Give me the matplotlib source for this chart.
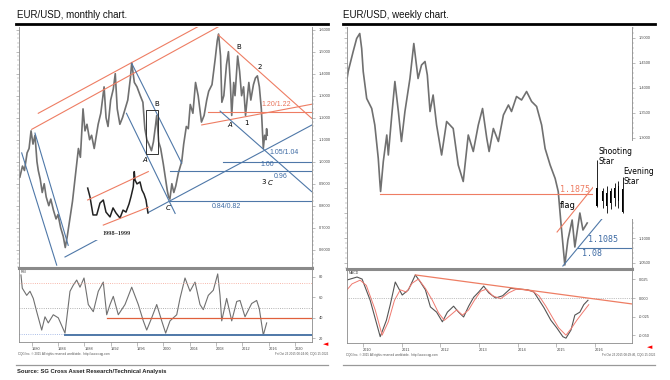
import numpy as np
import matplotlib.pyplot as plt
from matplotlib.lines import Line2D
from matplotlib.patches import Rectangle
from matplotlib.ticker import MultipleLocator

# ---- monthly chart data (decimal year, price) ----
m_year = [1978.2, 1978.6, 1978.9, 1979.3, 1979.6, 1979.9, 1980.2, 1980.5, 1980.8, 1981.0,
          1981.3, 1981.6, 1981.9, 1982.2, 1982.6, 1982.9, 1983.3, 1983.7, 1984.0, 1984.4,
          1984.8, 1985.1, 1985.4, 1985.8, 1986.2, 1986.5, 1986.8, 1987.1, 1987.4, 1987.8,
          1988.1, 1988.4, 1988.8, 1989.1, 1989.5, 1990.1, 1990.5, 1991.0, 1991.3, 1991.6,
          1992.0, 1992.4, 1992.7, 1993.0, 1993.4, 1993.8, 1994.2, 1994.6, 1995.0, 1995.2,
          1995.6, 1996.0, 1996.5, 1996.9, 1997.2, 1997.5, 1997.8, 1998.2, 1998.5, 1998.8,
          1999.0, 1999.3, 1999.6, 2000.0, 2000.3, 2000.6, 2000.8, 2001.0, 2001.3, 2001.6,
          2001.9, 2002.3, 2002.8, 2003.1, 2003.5, 2003.8, 2004.1, 2004.5, 2004.9, 2005.3,
          2005.8, 2006.2, 2006.6, 2006.9, 2007.4, 2007.9, 2008.2, 2008.4, 2008.7, 2008.9,
          2009.2, 2009.6, 2009.9, 2010.2, 2010.4, 2010.7, 2010.9, 2011.3, 2011.6, 2011.9,
          2012.2, 2012.5, 2012.8, 2013.0, 2013.3, 2013.7, 2014.0, 2014.3, 2014.6, 2014.9,
          2015.2, 2015.4, 2015.6, 2015.7, 2015.8]
m_price = [0.93, 0.98, 0.96, 1.04, 1.06, 1.14, 1.08, 1.12, 1.00, 0.96,
           0.92, 0.86, 0.90, 0.84, 0.80, 0.83, 0.78, 0.74, 0.76, 0.70,
           0.66, 0.61, 0.66, 0.74, 0.82, 0.90, 0.98, 1.06, 1.02, 1.24,
           1.14, 1.17, 1.10, 1.12, 1.06, 1.17, 1.22, 1.34, 1.20, 1.16,
           1.28, 1.33, 1.40, 1.24, 1.17, 1.20, 1.24, 1.28, 1.38, 1.45,
           1.36, 1.34, 1.30, 1.27, 1.15, 1.10, 1.08, 1.05, 1.09, 1.16,
           1.21, 1.09, 1.06, 0.99, 0.93, 0.87, 0.84, 0.83, 0.90, 0.86,
           0.89, 0.95, 1.00, 1.08, 1.16, 1.15, 1.26, 1.22, 1.36, 1.30,
           1.18, 1.21, 1.28, 1.32, 1.35, 1.47, 1.55, 1.58, 1.48, 1.27,
           1.30, 1.44, 1.50, 1.35, 1.21, 1.36, 1.30, 1.48, 1.41, 1.30,
           1.34, 1.21, 1.30, 1.36, 1.28, 1.35, 1.38, 1.39, 1.34, 1.24,
           1.06, 1.12, 1.10, 1.15, 1.12]

rsi_year = [1978.37, 1978.57, 1979.24, 1979.74, 1980.24, 1980.76, 1981.52, 1982.02, 1982.52, 1983.28,
            1984.04, 1985.06, 1985.82, 1986.32, 1986.84, 1987.34, 1987.95, 1988.6, 1989.36, 1990.12,
            1990.88, 1991.4, 1991.9, 1992.4, 1993.16, 1994.18, 1995.2, 1996.2, 1996.96, 1997.48,
            1998.24, 1999.0, 1999.76, 2000.36, 2001.02, 2002.04, 2002.54, 2003.3, 2004.06, 2004.82,
            2005.58, 2006.08, 2006.84, 2007.6, 2008.27, 2008.62, 2008.88, 2009.63, 2010.4, 2011.16,
            2011.66, 2012.42, 2013.43, 2014.19, 2014.59, 2015.2, 2015.71]
rsi_val = [82, 69, 62, 66, 59, 46, 28, 41, 35, 43,
           40, 25, 66, 72, 77, 70, 79, 53, 46, 66,
           75, 43, 53, 61, 43, 53, 70, 53, 37, 28,
           40, 53, 37, 25, 37, 43, 59, 79, 66, 75,
           53, 48, 62, 67, 83, 62, 37, 59, 37, 56,
           57, 41, 54, 57, 49, 23, 35]

# 1998-1999 inset (drawn in the same scale as the picture shows it)
inset_year = [1988.51, 1988.86, 1989.32, 1989.88, 1990.38, 1990.88, 1991.29, 1991.9, 1992.36, 1992.81,
              1993.42, 1993.88, 1994.33, 1994.79, 1995.09, 1995.44, 1995.59, 1995.7, 1996.0, 1996.46,
              1996.76, 1997.07, 1997.37, 1997.67]
inset_price = [0.880, 0.840, 0.758, 0.758, 0.812, 0.826, 0.771, 0.749, 0.790, 0.767,
               0.744, 0.780, 0.771, 0.808, 0.841, 0.886, 0.955, 0.917, 0.899, 0.908,
               0.871, 0.853, 0.826, 0.767]

# trend lines on the monthly chart: (years, prices)
red_lines_m = [([1981.0, 2005.47], [1.220, 1.617]),
               ([1980.0, 2008.6], [1.147, 1.617]),
               ([2008.36, 2022.55], [1.576, 1.197]),
               ([2005.84, 2022.55], [1.167, 1.261]),
               ([2006.84, 2022.6], [1.2245, 1.2245]),
               ([1988.51, 1997.72], [0.826, 0.955]),
               ([1990.88, 1997.72], [0.712, 0.793])]
blue_lines_m = [([1980.5, 1985.55], [1.13, 0.62]),
                ([1978.48, 1983.8], [1.04, 0.53]),
                ([1995.2, 2002.8], [1.447, 0.993]),
                ([1994.4, 2001.8], [1.22, 0.765]),
                ([2008.63, 2022.55], [1.23, 0.864]),
                ([2009.12, 2022.6], [1.00, 1.00]),
                ([2001.0, 2022.6], [0.959, 0.959]),
                ([2001.0, 2022.6], [0.821, 0.821])]
blue_rise_85 = ([1985.06, 2022.6], [0.567, 1.167])

m_labels = [(1999.07, 1.262, 'B', 'black', 'normal'), (1997.22, 1.008, 'A', 'black', 'italic'),
            (2011.5, 1.523, 'B', 'black', 'normal'), (2014.6, 1.432, '2', 'black', 'normal'),
            (2010.14, 1.167, 'A', 'black', 'italic'), (2012.67, 1.175, '1', 'black', 'normal'),
            (2015.2, 0.909, '3', 'black', 'normal'), (2016.2, 0.905, 'C', 'black', 'italic'),
            (2000.76, 0.788, 'C', 'black', 'italic')]
m_levels = [(2014.95, 1.262, '1.20/1.22', '#e8735a'), (2016.2, 1.041, '1.05/1.04', '#3d6aa3'),
            (2014.7, 0.985, '1.00', '#3d6aa3'), (2016.72, 0.935, '0.96', '#3d6aa3'),
            (2007.35, 0.795, '0.84/0.82', '#3d6aa3')]

# ---- weekly chart data ----
w_year = [2009.57, 2009.61, 2009.74, 2009.83, 2009.91, 2009.96, 2010.0, 2010.09, 2010.22, 2010.30,
          2010.39, 2010.43, 2010.45, 2010.52, 2010.61, 2010.65, 2010.74, 2010.82, 2010.91, 2010.99,
          2011.08, 2011.21, 2011.31, 2011.42, 2011.51, 2011.60, 2011.66, 2011.73, 2011.81, 2011.90,
          2012.03, 2012.16, 2012.33, 2012.46, 2012.59, 2012.72, 2012.85, 2012.98, 2013.09, 2013.20,
          2013.26, 2013.37, 2013.50, 2013.63, 2013.76, 2013.84, 2013.97, 2014.10, 2014.23, 2014.36,
          2014.49, 2014.62, 2014.71, 2014.84, 2014.97, 2015.05, 2015.12, 2015.22, 2015.30, 2015.41,
          2015.48, 2015.61, 2015.69, 2015.80]
w_price = [1.413, 1.433, 1.473, 1.499, 1.509, 1.479, 1.433, 1.379, 1.359, 1.326,
           1.259, 1.213, 1.193, 1.253, 1.306, 1.266, 1.346, 1.413, 1.353, 1.293,
           1.353, 1.419, 1.489, 1.419, 1.446, 1.453, 1.426, 1.353, 1.386, 1.326,
           1.266, 1.333, 1.319, 1.246, 1.213, 1.306, 1.273, 1.326, 1.359, 1.299,
           1.273, 1.319, 1.293, 1.346, 1.366, 1.353, 1.383, 1.376, 1.393, 1.373,
           1.363, 1.326, 1.279, 1.246, 1.219, 1.193, 1.130, 1.046, 1.096, 1.136,
           1.082, 1.150, 1.116, 1.130]

macd_year = [2009.58, 2009.84, 2009.97, 2010.18, 2010.44, 2010.60, 2010.70, 2010.83, 2011.01, 2011.17,
             2011.35, 2011.48, 2011.61, 2011.74, 2011.90, 2012.05, 2012.18, 2012.34, 2012.47, 2012.60,
             2012.73, 2012.86, 2012.99, 2013.12, 2013.25, 2013.43, 2013.61, 2013.82, 2014.03, 2014.26,
             2014.42, 2014.52, 2014.68, 2014.86, 2015.01, 2015.17, 2015.25, 2015.38, 2015.48, 2015.61,
             2015.71, 2015.82]
macd_val = [0.0242, 0.0282, 0.0255, -0.003, -0.052, -0.030, -0.009, 0.0215, 0.004, 0.011,
            0.031, 0.0215, 0.011, -0.012, -0.019, -0.032, -0.019, -0.011, -0.019, -0.0255,
            -0.011, 0.001, 0.008, 0.016, 0.007, 0.000, 0.003, 0.013, 0.012, 0.011,
            0.008, 0.000, -0.013, -0.030, -0.040, -0.052, -0.054, -0.043, -0.023, -0.019,
            -0.009, -0.003]
sig_year = [2009.58, 2009.71, 2009.92, 2010.08, 2010.31, 2010.49, 2010.65, 2010.81, 2010.96, 2011.12,
            2011.27, 2011.43, 2011.61, 2011.79, 2011.95, 2012.10, 2012.26, 2012.42, 2012.57, 2012.73,
            2012.88, 2013.04, 2013.19, 2013.35, 2013.56, 2013.77, 2013.97, 2014.18, 2014.39, 2014.55,
            2014.73, 2014.91, 2015.06, 2015.25, 2015.40, 2015.53, 2015.69, 2015.84]
sig_val = [0.011, 0.019, 0.024, 0.017, -0.016, -0.050, -0.032, -0.003, 0.011, 0.008,
           0.020, 0.0255, 0.013, -0.003, -0.020, -0.030, -0.023, -0.016, -0.023, -0.016,
           -0.003, 0.009, 0.012, 0.003, -0.001, 0.007, 0.012, 0.011, 0.009, 0.003,
           -0.011, -0.027, -0.040, -0.050, -0.040, -0.030, -0.019, -0.009]
macd_trend = ([2011.35, 2016.96], [0.031, -0.008])

# candles of the shooting star / evening star sketch
c_year = [2016.05, 2016.20, 2016.30, 2016.41, 2016.51, 2016.61, 2016.72]
c_high = [1.257, 1.200, 1.205, 1.200, 1.210, 1.215, 1.222]
c_low = [1.162, 1.160, 1.150, 1.158, 1.165, 1.160, 1.150]
c_top = [1.200, 1.195, 1.190, 1.195, 1.200, 1.205, 1.198]
c_bot = [1.165, 1.175, 1.165, 1.170, 1.180, 1.175, 1.152]

RED = '#ee7d63'
BLUE = '#4f78a8'
GRAY = '#8a8a8a'
PRICE = '#707070'
plt.rcParams['font.family'] = ['Liberation Sans', 'DejaVu Sans']

W, H = 670, 380
fig = plt.figure(figsize=(W / 100, H / 100), dpi=100)


def box(x0, y0, x1, y1):
    return [x0 / W, 1 - y1 / H, (x1 - x0) / W, (y1 - y0) / H]


def style(ax, top_lw=0.6):
    for s in ax.spines.values():
        s.set_color(GRAY)
        s.set_linewidth(0.6)
    ax.spines['top'].set_linewidth(top_lw)
    ax.yaxis.tick_right()
    ax.tick_params(axis='y', labelsize=2.8, length=2, width=0.4, color=GRAY, pad=3, labelcolor='#444')
    ax.tick_params(axis='x', labelsize=2.8, length=3, width=0.4, color=GRAY, pad=0.3, labelcolor='#444')


axL = fig.add_axes(box(19, 27, 312, 268))
axLr = fig.add_axes(box(19, 268, 312, 342))
axR = fig.add_axes(box(347, 27, 632, 269))
axRm = fig.add_axes(box(347, 269, 632, 343))

# ---------- monthly price ----------
axL.plot(m_year, m_price, color=PRICE, lw=1.2, zorder=2)
for xs, ys in red_lines_m[:5]:
    axL.plot(xs, ys, color=RED, lw=0.8, zorder=3)
for xs, ys in blue_lines_m:
    axL.plot(xs, ys, color=BLUE, lw=0.8, zorder=3)
axL.plot(*blue_rise_85, color=BLUE, lw=0.8, zorder=3)
axL.add_patch(Rectangle((1997.37, 1.034), 1.78, 0.201, fill=False, ec='#333', lw=0.7, zorder=4))
# 1998-1999 inset
axL.add_patch(Rectangle((1988.1, 0.644), 9.6, 0.327, fc='white', ec='none', zorder=5))
axL.plot(inset_year, inset_price, color='#222', lw=1.1, zorder=6)
for xs, ys in red_lines_m[5:]:
    axL.plot(xs, ys, color=RED, lw=0.8, zorder=6)
axL.text(1992.9, 0.672, '1998\u20131999', fontsize=4.5, family='Liberation Serif',
         fontweight='bold', color='#333', ha='center', va='center', zorder=7)
for x, y, t, c, st in m_labels:
    axL.text(x, y, t, fontsize=5, color=c, style=st, ha='center', va='center',
             family='DejaVu Sans', zorder=7)
for x, y, t, c in m_levels:
    axL.text(x, y, t, fontsize=5, color=c, ha='left', va='center', zorder=7)

axL.set_xlim(1978.07, 2022.6)
axL.set_ylim(0.517, 1.612)
axL.set_yticks(np.arange(0.6, 1.61, 0.1))
axL.set_yticklabels(['%.4f' % v for v in np.arange(0.6, 1.61, 0.1)])
axL.yaxis.set_minor_locator(MultipleLocator(0.02))
axL.set_xticks([])
axL.spines['top'].set_visible(False)
axL.spines['bottom'].set_visible(False)
style(axL)
axL.tick_params(axis='y', which='both', left=True, direction='out')
axL.tick_params(axis='y', which='minor', length=1.2, width=0.3, color=GRAY)

# ---------- RSI ----------
axLr.plot(rsi_year, rsi_val, color=PRICE, lw=0.8)
axLr.axhline(74, color='#f4a090', lw=0.6, ls=':')
axLr.axhline(50, color='#999', lw=0.6, ls=':')
axLr.axhline(24.6, color='#8fa8e0', lw=0.6, ls=':')
axLr.plot([1991.46, 2022.6], [40, 40], color='#e0603c', lw=0.9)
axLr.plot([1985.06, 2022.6], [23, 23], color=BLUE, lw=1.4)
axLr.set_xlim(1978.07, 2022.6)
axLr.set_ylim(16.3, 88.8)
axLr.set_yticks([20, 40, 60, 80])
axLr.set_xticks(range(1980, 2021, 4))
axLr.set_xticklabels([str(y) for y in range(1980, 2021, 4)], ha='left')
style(axLr, top_lw=2.2)
axLr.text(0.005, 0.97, 'RSI', transform=axLr.transAxes, fontsize=2.5, va='top', color='#444')

# ---------- weekly price ----------
axR.plot(w_year, w_price, color=PRICE, lw=1.2, zorder=2)
axR.plot([2010.43, 2016.05], [1.1875, 1.1875], color=RED, lw=0.8, zorder=3)
axR.plot([2015.02, 2016.0], [1.112, 1.206], color=RED, lw=0.8, zorder=3)
axR.plot([2015.17, 2016.18], [1.044, 1.138], color=BLUE, lw=0.8, zorder=3)
axR.plot([2015.56, 2016.96], [1.08, 1.08], color=BLUE, lw=0.8, zorder=3)
axR.add_patch(Rectangle((2015.95, 1.138), 1.75, 0.156, fc='white', ec='none',
                        zorder=4, clip_on=False))
axR.vlines(c_year, c_low, c_high, color='black', lw=0.6, zorder=5)
axR.bar(c_year, np.array(c_top) - np.array(c_bot), bottom=c_bot, width=0.035,
        color='black', zorder=5)
axR.text(2015.10, 1.198, '1.1875', fontsize=6, color=RED, family='DejaVu Sans Mono',
         va='center', zorder=6)
axR.text(2015.10, 1.166, 'flag', fontsize=6, color='black', family='DejaVu Sans',
         va='center', zorder=6)
axR.text(2015.82, 1.096, '1.1085', fontsize=6, color='#3d6aa3', family='DejaVu Sans Mono',
         va='center', zorder=6)
axR.text(2015.67, 1.068, '1.08', fontsize=6, color='#3d6aa3', family='DejaVu Sans Mono',
         va='center', zorder=6)
axR.text(2016.08, 1.263, 'Shooting\nStar', fontsize=5.5, color='black', family='DejaVu Sans',
         va='center', linespacing=1.1, zorder=6, clip_on=False)
axR.text(2016.73, 1.223, 'Evening\nStar', fontsize=5.5, color='black', family='DejaVu Sans',
         va='center', linespacing=1.1, zorder=6, clip_on=False)
axR.set_xlim(2009.58, 2016.96)
axR.set_ylim(1.038, 1.522)
axR.set_yticks(np.arange(1.05, 1.51, 0.05))
axR.set_yticklabels(['%.4f' % v for v in np.arange(1.05, 1.51, 0.05)])
axR.yaxis.set_minor_locator(MultipleLocator(0.01))
axR.set_xticks([])
axR.spines['top'].set_visible(False)
axR.spines['bottom'].set_visible(False)
style(axR)
axR.tick_params(axis='y', which='both', left=True, direction='out')
axR.tick_params(axis='y', which='minor', length=1.2, width=0.3, color=GRAY)

# ---------- MACD ----------
axRm.plot(macd_year, macd_val, color='#555', lw=0.8)
axRm.plot(sig_year, sig_val, color='#f07a70', lw=0.7)
axRm.axhline(0, color='#888', lw=0.5, ls=':')
axRm.plot(*macd_trend, color=RED, lw=0.9)
axRm.set_xlim(2009.58, 2016.96)
axRm.set_ylim(-0.0605, 0.039)
axRm.set_yticks([0.025, 0.0, -0.025, -0.05])
axRm.set_yticklabels(['%.3f' % v for v in [0.025, 0.0, -0.025, -0.05]])
axRm.set_xticks(range(2010, 2017))
axRm.set_xticklabels([str(y) for y in range(2010, 2017)], ha='left')
style(axRm, top_lw=2.2)
axRm.text(0.005, 0.97, 'MACD', transform=axRm.transAxes, fontsize=2.5, va='top', color='#444')

# ---------- titles, rules, footers ----------
fig.text(17 / W, 1 - 15 / H, 'EUR/USD, monthly chart.', fontsize=7, va='center', color='#111')
fig.text(343 / W, 1 - 15 / H, 'EUR/USD, weekly chart.', fontsize=7, va='center', color='#111')
fig.add_artist(Line2D([16 / W, 328 / W], [1 - 24 / H] * 2, color='black', lw=2))
fig.add_artist(Line2D([343 / W, 655 / W], [1 - 24 / H] * 2, color='black', lw=2))
fig.add_artist(Line2D([16 / W, 328 / W], [1 - 365 / H] * 2, color='#999', lw=0.9))
fig.add_artist(Line2D([343 / W, 655 / W], [1 - 365 / H] * 2, color='#999', lw=0.9))
fig.text(17 / W, 1 - 372 / H, 'Source: SG Cross Asset Research/Technical Analysis',
         fontsize=4.2, fontweight='bold', va='center', color='#222')
note = 'CQG Inc. \u00a9 2015 All rights reserved worldwide.  http://www.cqg.com'
fig.text(18 / W, 1 - 354 / H, note, fontsize=2.2, va='center', color='#555')
fig.text(328 / W, 1 - 354 / H, 'Fri Oct 23 2015 00:24:00, CQG 15.0026', fontsize=2.2,
         va='center', ha='right', color='#555')
fig.text(346 / W, 1 - 355 / H, note, fontsize=2.2, va='center', color='#555')
fig.text(655 / W, 1 - 355 / H, 'Fri Oct 23 2015 08:29:46, CQG 15.0026', fontsize=2.2,
         va='center', ha='right', color='#555')
fig.text(326 / W, 1 - 344 / H, '\u25c4', fontsize=5, color='red', ha='center', va='center',
         family='DejaVu Sans')
fig.text(650 / W, 1 - 347 / H, '\u25c4', fontsize=5, color='red', ha='center', va='center',
         family='DejaVu Sans')

fig.savefig('out.png', dpi=100)
